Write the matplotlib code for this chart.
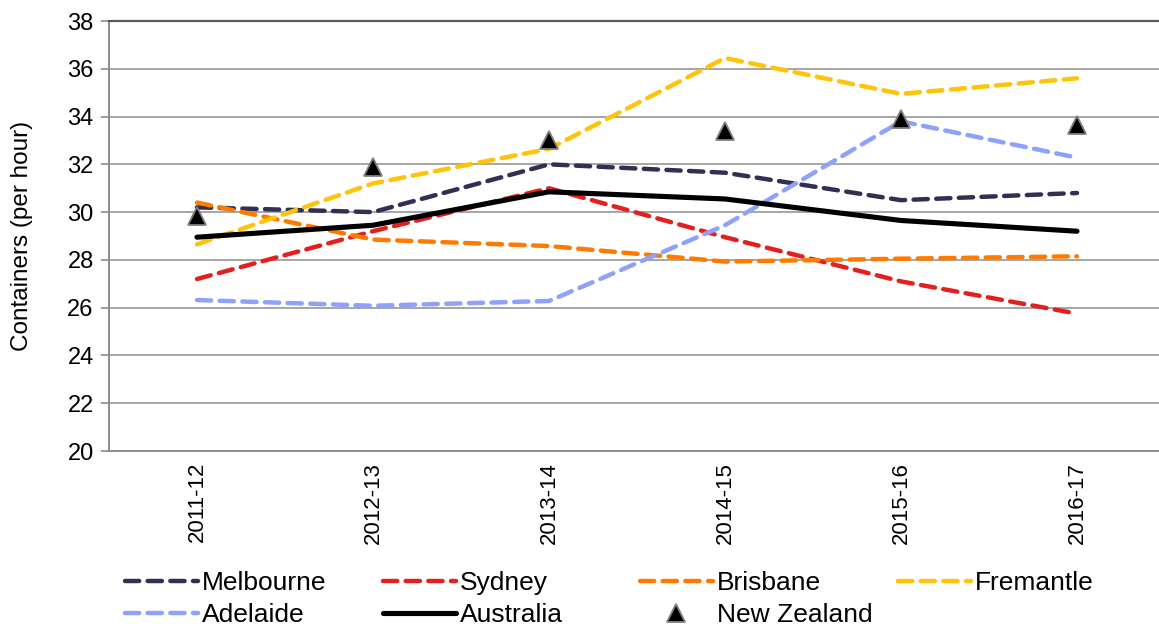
import matplotlib
matplotlib.use("Agg")
import matplotlib.pyplot as plt

plt.rcParams['font.family'] = ['Liberation Sans', 'DejaVu Sans']

years = ["2011-12", "2012-13", "2013-14", "2014-15", "2015-16", "2016-17"]
melbourne = [30.2, 30.0, 32.0, 31.65, 30.5, 30.8]
sydney = [27.2, 29.2, 31.0, 28.95, 27.1, 25.75]
brisbane = [30.4, 28.85, 28.58, 27.93, 28.05, 28.15]
fremantle = [28.65, 31.2, 32.65, 36.45, 34.95, 35.6]
adelaide = [26.32, 26.08, 26.28, 29.45, 33.8, 32.28]
australia = [28.95, 29.45, 30.85, 30.55, 29.65, 29.2]
new_zealand = [29.85, 31.9, 33.0, 33.4, 33.9, 33.65]

yticks = list(range(20, 39, 2))

fig = plt.figure(figsize=(11.59, 6.28), dpi=100)
ax = fig.add_axes([109 / 1159, 177 / 628, 1056 / 1159, 430 / 628])

x = list(range(len(years)))
dash = dict(linestyle=(0, (3.2, 1.9)), linewidth=3.2, dash_capstyle='round')

h_mel, = ax.plot(x, melbourne, color='#322f52', label='Melbourne', **dash)
h_syd, = ax.plot(x, sydney, color='#e4201f', label='Sydney', **dash)
h_bri, = ax.plot(x, brisbane, color='#ff7a00', label='Brisbane', **dash)
h_fre, = ax.plot(x, fremantle, color='#ffc40a', label='Fremantle', **dash)
h_ade, = ax.plot(x, adelaide, color='#8ea2fb', label='Adelaide', **dash)
h_aus, = ax.plot(x, australia, color='black', linewidth=3.7,
                 solid_capstyle='round', label='Australia')
h_nz, = ax.plot(x, new_zealand, linestyle='none', marker='^', markersize=13,
                markerfacecolor='black', markeredgecolor='#7f7f7f',
                markeredgewidth=1.3, label='New Zealand')

ax.set_xlim(-0.5, len(years) - 0.5)
ax.set_ylim(20, 38)
ax.set_yticks(yticks)
ax.set_yticklabels([str(v) for v in yticks], fontsize=17)
ax.set_xticks(x)
ax.set_xticklabels(years, rotation=90, fontsize=16)
ax.tick_params(axis='x', length=0, pad=8)
ax.tick_params(axis='y', length=6, width=1.2, color='#8c8c8c', pad=5)

ax.grid(axis='y', color='#a6a6a6', linewidth=1.4)
ax.set_axisbelow(True)
ax.spines['right'].set_visible(False)
ax.spines['top'].set_color('#595959')
ax.spines['top'].set_linewidth(1.6)
ax.spines['left'].set_color('#8c8c8c')
ax.spines['left'].set_linewidth(1.4)
ax.spines['bottom'].set_color('#8c8c8c')
ax.spines['bottom'].set_linewidth(1.4)

ax.set_ylabel('Containers (per hour)', fontsize=17.5)
ax.yaxis.set_label_coords(-76 / 1056, 0.5)

# Legend laid out as four fixed columns, filled row by row
columns = [
    ([h_mel, h_ade], 125),
    ([h_syd, h_aus], 383),
    ([h_bri, h_nz], 640),
    ([h_fre], 898),
]
for handles, x_px in columns:
    fig.legend(handles, [h.get_label() for h in handles], loc='upper left',
               bbox_to_anchor=(x_px / 1159, 1 - 571 / 628), frameon=False,
               fontsize=19, handlelength=2.75, handletextpad=0.15,
               labelspacing=0.3, borderpad=0.0, borderaxespad=0.0)

fig.savefig('out.png', dpi=100)
